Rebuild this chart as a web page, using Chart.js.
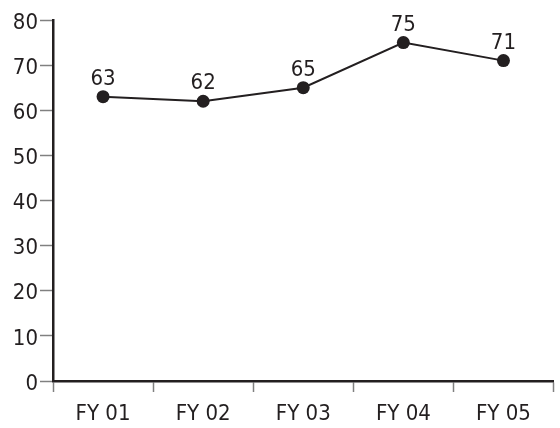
<!DOCTYPE html>
<html>
<head>
<meta charset="utf-8">
<script src="https://cdn.jsdelivr.net/npm/chart.js@4/dist/chart.umd.min.js"></script>
<style>
  html, body { margin: 0; padding: 0; background: #fff; }
  #wrap { width: 560px; height: 428px; }
</style>
</head>
<body>
<div id="wrap"><canvas id="line-chart"></canvas></div>
<script>
const years = ['FY 01', 'FY 02', 'FY 03', 'FY 04', 'FY 05'];
const scores = [63, 62, 65, 75, 71];
const yTicks = [0, 10, 20, 30, 40, 50, 60, 70, 80];

const FONT = '"Liberation Sans Narrow", "DejaVu Sans Condensed", "Arial Narrow", sans-serif';
const INK = '#231f20';

// value labels above each point
const pointLabels = {
  id: 'pointLabels',
  afterDatasetsDraw(chart) {
    const ctx = chart.ctx;
    const meta = chart.getDatasetMeta(0);
    ctx.save();
    ctx.font = '22px ' + FONT;
    ctx.fillStyle = INK;
    ctx.textAlign = 'center';
    ctx.textBaseline = 'alphabetic';
    meta.data.forEach((pt, i) => {
      ctx.fillText(String(chart.data.datasets[0].data[i]), pt.x, pt.y - 12);
    });
    ctx.restore();
  }
};

const config = {
  type: 'line',
  data: {
    labels: years,
    datasets: [
      {
        data: scores,
        borderColor: INK,
        borderWidth: 2,
        backgroundColor: INK,
        pointBackgroundColor: INK,
        pointBorderColor: INK,
        pointRadius: 6.5,
        pointBorderWidth: 0,
        tension: 0,
      },
    ],
  },
  options: {
    responsive: true,
    maintainAspectRatio: false,
    animation: false,
    layout: {
      padding: { top: 20, right: 3, left: 0, bottom: 0 },
    },
    plugins: {
      legend: { display: false },
      tooltip: { enabled: false },
    },
    scales: {
      x: {
        type: 'category',
        offset: true,
        afterFit(scale) { scale.height = 47; },
        grid: {
          offset: true,
          drawOnChartArea: false,
          drawTicks: true,
          tickLength: 11,
          tickColor: '#808080',
          tickWidth: 1.5,
        },
        border: { color: INK, width: 2.5 },
        ticks: {
          color: INK,
          padding: 9,
          font: { family: FONT, size: 22 },
        },
      },
      y: {
        min: 0,
        max: 80,
        afterFit(scale) { scale.width = 53; },
        afterBuildTicks(scale) {
          scale.ticks = yTicks.map(v => ({ value: v }));
        },
        grid: {
          drawOnChartArea: false,
          drawTicks: true,
          tickLength: 13,
          tickColor: '#808080',
          tickWidth: 1.5,
        },
        border: { color: INK, width: 2.5 },
        ticks: {
          color: INK,
          padding: 2,
          labelOffset: 3,
          font: { family: FONT, size: 22 },
        },
      },
    },
  },
  plugins: [pointLabels],
};

const lineChart = new Chart(document.getElementById('line-chart'), config);
</script>
</body>
</html>
